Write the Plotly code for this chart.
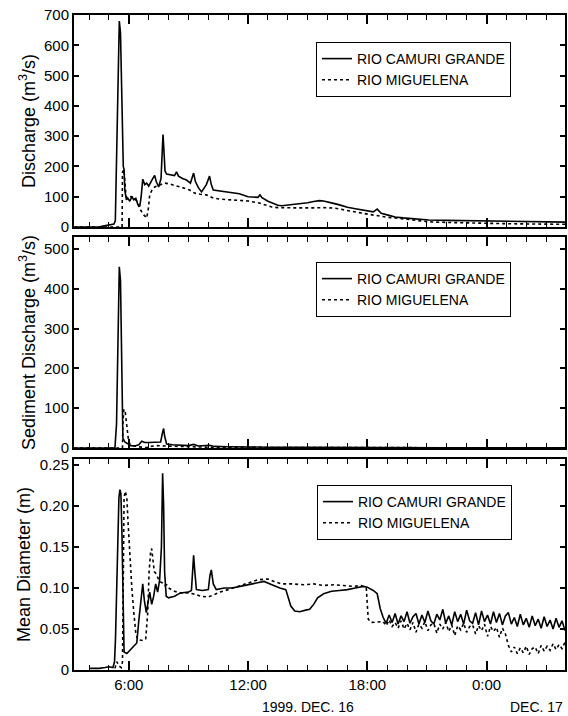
import pandas as pd
import plotly.graph_objects as go

# ---------------- data (hours since 1999-12-16 00:00) ----------------
q_cam_t = [3.25, 4.5, 4.7, 4.9, 5.1, 5.25, 5.32, 5.42, 5.52, 5.58, 5.65, 5.72, 5.76, 5.8, 5.88, 5.95,
           6.05, 6.15, 6.25, 6.35, 6.45, 6.55, 6.62, 6.7, 6.8, 6.9, 7.0, 7.1, 7.2, 7.3, 7.38, 7.5,
           7.62, 7.68, 7.72, 7.76, 7.82, 7.9, 8.1, 8.3, 8.4, 8.5, 8.7, 8.9, 9.1, 9.2, 9.26, 9.35,
           9.5, 9.66, 9.9, 10.06, 10.15, 10.25, 10.5, 10.9, 11.2, 11.56, 12.0, 12.2, 12.5, 12.6,
           12.7, 13.0, 13.2, 13.5, 13.7, 14.0, 14.3, 14.6, 15.0, 15.3, 15.6, 15.8, 16.0, 16.3,
           16.6, 17.0, 17.4, 17.7, 18.0, 18.3, 18.5, 18.7, 19.0, 19.4, 19.8, 20.3, 21.1, 22.0,
           23.0, 23.9, 25.0, 26.0, 27.0, 27.95]
q_cam = [0, 0, 3, 5, 8, 10, 20, 400, 680, 640, 350, 200, 190, 120, 90, 95,
         85, 100, 90, 95, 75, 68, 100, 158, 140, 145, 135, 150, 160, 170, 150, 132,
         160, 250, 305, 260, 185, 175, 172, 170, 182, 168, 160, 155, 145, 165, 178, 150,
         130, 116, 140, 168, 140, 122, 120, 116, 114, 110, 100, 99, 98, 106,
         97, 85, 79, 72, 70, 72, 74, 76, 80, 84, 87, 86, 82, 78,
         73, 65, 60, 56, 52, 50, 59, 45, 40, 33, 30, 27, 23, 22,
         21, 20, 19, 18, 17, 16]

q_mig_t = [3.25, 5.66, 5.68, 5.75, 5.8, 5.86, 5.95, 6.1, 6.25, 6.4, 6.55, 6.75, 6.9, 6.98, 7.05,
           7.15, 7.3, 7.5, 7.8, 8.0, 8.3, 8.55, 8.8, 9.06, 9.3, 9.6, 9.9, 10.2, 10.56, 11.0,
           11.56, 12.0, 12.56, 13.0, 13.2, 13.5, 13.9, 14.5, 15.2, 15.8, 16.4, 16.8, 17.2, 17.7,
           18.2, 18.6, 19.0, 19.4, 20.0, 20.6, 21.1, 22.0, 23.0, 24.0, 25.0, 26.0, 27.0, 27.95]
q_mig = [0, 0, 180, 190, 150, 100, 95, 100, 98, 85, 60, 40, 30, 60, 106,
         120, 132, 138, 145, 143, 138, 132, 128, 122, 112, 108, 106, 97, 92, 90,
         89, 86, 79, 70, 66, 64, 63, 63, 63, 64, 62, 58, 52, 46,
         40, 35, 32, 30, 25, 20, 17, 15, 13, 12, 11, 10, 10, 9]

s_cam_t = [3.25, 5.3, 5.38, 5.45, 5.52, 5.58, 5.62, 5.66, 5.7, 5.8, 5.95, 6.1, 6.3, 6.5, 6.65,
           6.8, 7.0, 7.3, 7.6, 7.7, 7.75, 7.8, 7.9, 8.2, 8.6, 9.0, 9.26, 9.5, 10.06, 10.3,
           11.0, 12.0, 13.0, 15.0, 18.0, 22.0, 27.95]
s_cam = [0, 0, 60, 300, 455, 420, 250, 80, 25, 15, 10, 6, 5, 8, 17,
         14, 14, 14, 15, 40, 49, 30, 10, 8, 7, 6, 9, 5, 7, 4,
         3, 2, 2, 2, 1, 0.5, 0.3]

s_mig_t = [3.25, 5.68, 5.7, 5.75, 5.82, 5.9, 5.98, 6.05, 6.2, 6.5, 6.9, 7.1, 7.4, 7.8, 8.3,
           9.0, 10.0, 12.0, 15.0, 18.0, 27.95]
s_mig = [0, 0, 60, 97, 90, 50, 20, 10, 6, 3, 1, 4, 6, 5, 4,
         3, 2, 1.5, 1, 0.5, 0.2]

d_cam_t = [4.05, 4.5, 4.8, 5.0, 5.2, 5.28, 5.33, 5.42, 5.5, 5.55, 5.6, 5.65, 5.72, 5.76, 5.9,
           6.1, 6.3, 6.4, 6.5, 6.62, 6.7, 6.78, 6.88, 6.95, 7.05, 7.15, 7.25, 7.35, 7.45, 7.55,
           7.64, 7.7, 7.75, 7.8, 7.88, 8.0, 8.3, 8.6, 9.0, 9.15, 9.22, 9.26, 9.32, 9.4, 9.7,
           10.0, 10.08, 10.15, 10.25, 10.4, 10.8, 11.2, 11.6, 12.0, 12.4, 12.8, 13.2, 13.6, 13.9,
           14.0, 14.15, 14.35, 14.6, 14.9, 15.1, 15.3, 15.5, 15.8, 16.2, 16.6, 17.0, 17.4, 17.8,
           18.0, 18.3, 18.5, 18.65]
d_cam = [0.002, 0.002, 0.003, 0.004, 0.003, 0.01, 0.04, 0.15, 0.21, 0.22, 0.215, 0.17, 0.06, 0.022, 0.02,
         0.025, 0.03, 0.033, 0.06, 0.09, 0.105, 0.085, 0.07, 0.08, 0.095, 0.08, 0.09, 0.105, 0.095, 0.11,
         0.15, 0.24, 0.2, 0.12, 0.09, 0.088, 0.09, 0.094, 0.095, 0.097, 0.13, 0.14, 0.12, 0.098, 0.097,
         0.098, 0.115, 0.122, 0.105, 0.098, 0.1, 0.1, 0.102, 0.104, 0.106, 0.108, 0.104, 0.1, 0.098,
         0.09, 0.078, 0.072, 0.071, 0.073, 0.074, 0.08, 0.088, 0.093, 0.096, 0.097, 0.098, 0.1, 0.102,
         0.101, 0.097, 0.093, 0.075]

d_mig_t = [5.3, 5.4, 5.5, 5.62, 5.68, 5.72, 5.76, 5.82, 5.9, 5.96, 6.05, 6.15, 6.25, 6.35, 6.45,
           6.7, 6.85, 6.95, 7.02, 7.1, 7.15, 7.2, 7.28, 7.35, 7.45, 7.55, 7.7, 7.8, 7.9, 8.0,
           8.15, 8.3, 8.6, 9.0, 9.4, 9.6, 10.0, 10.3, 10.6, 11.0, 11.5, 12.0, 12.5, 13.0, 13.3,
           13.7, 14.2, 14.8, 15.3, 15.8, 16.3, 16.8, 17.3, 17.7, 17.95, 18.0, 18.05, 18.2]
d_mig = [0.002, 0.01, 0.005, 0.003, 0.01, 0.12, 0.21, 0.218, 0.21, 0.18, 0.14, 0.1, 0.07, 0.045, 0.037,
         0.036, 0.038, 0.07, 0.12, 0.145, 0.148, 0.135, 0.12, 0.118, 0.112, 0.108, 0.106, 0.103, 0.104, 0.1,
         0.098, 0.096, 0.094, 0.094, 0.092, 0.09, 0.089, 0.092, 0.095, 0.098, 0.102, 0.106, 0.11, 0.111, 0.108,
         0.105, 0.105, 0.104, 0.105, 0.103, 0.104, 0.103, 0.102, 0.103, 0.1, 0.08, 0.062, 0.058]

# noisy tail of mean diameter
tail_t = [18.8, 18.95, 19.1, 19.25, 19.4, 19.55, 19.7, 19.85, 20.0, 20.15,
          20.3, 20.45, 20.6, 20.75, 20.9, 21.05, 21.2, 21.35, 21.5, 21.65,
          21.8, 21.95, 22.1, 22.25, 22.4, 22.55, 22.7, 22.85, 23.0, 23.15,
          23.3, 23.45, 23.6, 23.75, 23.9, 24.05, 24.2, 24.35, 24.5, 24.65,
          24.8, 24.95, 25.1, 25.25, 25.4, 25.55, 25.7, 25.85, 26.0, 26.15,
          26.3, 26.45, 26.6, 26.75, 26.9, 27.05, 27.2, 27.35, 27.5, 27.65,
          27.8, 27.95]
d_cam_tail = [0.064, 0.057, 0.067, 0.058, 0.069, 0.056, 0.066, 0.059, 0.071, 0.057,
              0.065, 0.069, 0.056, 0.067, 0.058, 0.072, 0.060, 0.056, 0.068, 0.061,
              0.074, 0.057, 0.066, 0.055, 0.071, 0.059, 0.068, 0.056, 0.073, 0.060,
              0.057, 0.070, 0.055, 0.072, 0.059, 0.067, 0.056, 0.071, 0.058, 0.069,
              0.055, 0.066, 0.070, 0.056, 0.064, 0.053, 0.068, 0.055, 0.063, 0.052,
              0.066, 0.054, 0.062, 0.051, 0.065, 0.053, 0.061, 0.050, 0.063, 0.052,
              0.060, 0.048]
d_mig_tail = [0.059, 0.054, 0.061, 0.053, 0.058, 0.051, 0.060, 0.050, 0.057, 0.049,
              0.058, 0.046, 0.056, 0.051, 0.059, 0.048, 0.055, 0.057, 0.045, 0.056,
              0.050, 0.058, 0.047, 0.055, 0.042, 0.054, 0.049, 0.057, 0.046, 0.053,
              0.055, 0.044, 0.054, 0.048, 0.056, 0.041, 0.053, 0.047, 0.052, 0.040,
              0.051, 0.044, 0.030, 0.022, 0.028, 0.020, 0.027, 0.021, 0.029, 0.019,
              0.026, 0.028, 0.020, 0.030, 0.023, 0.029, 0.024, 0.032, 0.025, 0.031,
              0.026, 0.034]

series_names = ["RIO CAMURI GRANDE", "RIO MIGUELENA"]
x_tick_hours = [6, 12, 18, 24]
x_tick_text = ["6:00", "12:00", "18:00", "0:00"]
y1_ticks = [0, 100, 200, 300, 400, 500, 600, 700]
y2_ticks = [0, 100, 200, 300, 400, 500]
y3_ticks = [0, 0.05, 0.10, 0.15, 0.20, 0.25]
y3_text = ["0", "0.05", "0.10", "0.15", "0.20", "0.25"]
date_labels = ["1999. DEC. 16", "DEC. 17"]

BASE = pd.Timestamp("1999-12-16 00:00")


def tt(hours):
    return [BASE + pd.to_timedelta(h, unit="h") for h in hours]


FONT = "Liberation Sans, Arial, Helvetica, sans-serif"
fig = go.Figure()

panels = [
    (q_cam_t, q_cam, q_mig_t, q_mig, "x2", "y", "legend"),
    (s_cam_t, s_cam, s_mig_t, s_mig, "x3", "y2", "legend2"),
    (d_cam_t + tail_t, d_cam + d_cam_tail, d_mig_t + tail_t, d_mig + d_mig_tail, "x", "y3", "legend3"),
]
for ct, cv, mt, mv, xa, ya, lg in panels:
    fig.add_trace(go.Scatter(x=tt(ct), y=cv, mode="lines", name=series_names[0],
                             line=dict(color="black", width=1.6), xaxis=xa, yaxis=ya, legend=lg))
    fig.add_trace(go.Scatter(x=tt(mt), y=mv, mode="lines", name=series_names[1],
                             line=dict(color="black", width=1.6, dash="dot"), xaxis=xa, yaxis=ya, legend=lg))

L, R, T, B = 74, 1, 15, 46
W, H = 568, 716
ph = H - T - B


def dom(top_px, bot_px):
    return [(H - B - bot_px) / ph, (H - B - top_px) / ph]


x_range = tt([3.24, 27.95])
common_x = dict(type="date", range=x_range, showline=True, linecolor="black", linewidth=2,
                mirror="allticks", ticks="inside", ticklen=9, tickwidth=1.6, tickcolor="black",
                tickmode="array", tickvals=tt(x_tick_hours), ticktext=x_tick_text,
                minor=dict(dtick=3600000, tick0="1999-12-16", ticks="inside", ticklen=5,
                           tickwidth=1.3, tickcolor="black", showgrid=False),
                showgrid=False, zeroline=False, domain=[0, 1],
                tickfont=dict(family=FONT, size=15, color="black"))
common_y = dict(showline=True, linecolor="black", linewidth=2, mirror="allticks",
                ticks="inside", ticklen=5, tickwidth=1.6, tickcolor="black",
                showgrid=False, zeroline=False,
                tickfont=dict(family=FONT, size=15, color="black"),
                title_font=dict(family=FONT, size=18, color="black"), title_standoff=4)

fig.update_layout(
    width=W, height=H, margin=dict(l=L, r=R, t=T, b=B),
    paper_bgcolor="white", plot_bgcolor="white",
    font=dict(family=FONT, color="black"),
    xaxis=dict(common_x, anchor="y3", showticklabels=True),
    xaxis2=dict(common_x, anchor="y", matches="x", showticklabels=False),
    xaxis3=dict(common_x, anchor="y2", matches="x", showticklabels=False),
    yaxis=dict(common_y, domain=dom(15, 227), range=[0, 700], tickvals=y1_ticks,
               title_text="Discharge (m<sup>3</sup>/s)", anchor="x2"),
    yaxis2=dict(common_y, domain=dom(237, 448), range=[0, 530], tickvals=y2_ticks,
                title_text="Sediment Discharge (m<sup>3</sup>/s)", anchor="x3"),
    yaxis3=dict(common_y, domain=dom(459, 670), range=[0, 0.2573], tickvals=y3_ticks,
                ticktext=y3_text, title_text="Mean Diameter (m)", anchor="x"),
    showlegend=True,
)
leg = dict(xanchor="left", yanchor="top", bgcolor="white", bordercolor="black", borderwidth=1,
           font=dict(family=FONT, size=14, color="black"), tracegroupgap=0)
fig.update_layout(
    legend=dict(leg, x=(317 - L) / (W - L - R), y=(H - B - 42) / ph),
    legend2=dict(leg, x=(317 - L) / (W - L - R), y=(H - B - 262) / ph),
    legend3=dict(leg, x=(318 - L) / (W - L - R), y=(H - B - 485) / ph),
)

fig.add_annotation(x=tt([15.0])[0], y=0, xref="x", yref="paper", yshift=-37, text=date_labels[0],
                   showarrow=False, font=dict(family=FONT, size=14, color="black"), yanchor="middle")
fig.add_annotation(x=tt([26.5])[0], y=0, xref="x", yref="paper", yshift=-37, text=date_labels[1],
                   showarrow=False, font=dict(family=FONT, size=14, color="black"), yanchor="middle")

fig.write_html("out.html")
